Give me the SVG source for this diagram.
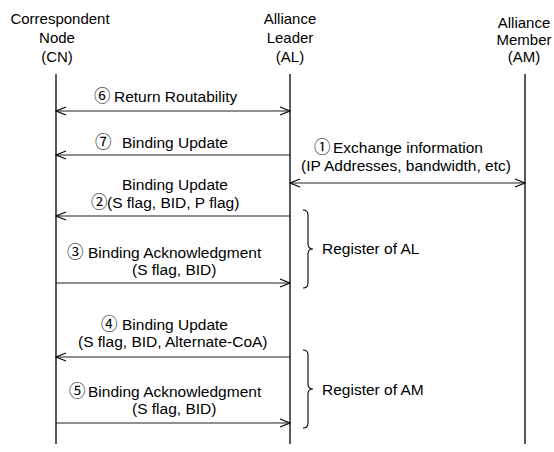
<svg xmlns="http://www.w3.org/2000/svg" width="554" height="452" viewBox="0 0 554 452">
<style>
text{font-family:"Liberation Sans",Arial,"Noto Sans CJK JP",sans-serif;font-size:15.5px;fill:#000}
.hd{font-size:15px;text-anchor:middle}
.num{font-family:"Noto Sans CJK JP","DejaVu Sans",sans-serif;font-size:16.5px}
.life{stroke:#000;stroke-width:1.3;fill:none}
.msg{stroke:#222;stroke-width:1.1;fill:none}
.brace{stroke:#000;stroke-width:1.1;fill:none}
</style>
<defs>
<marker id="ah" viewBox="0 0 12 10" refX="11" refY="5" markerWidth="12" markerHeight="10" markerUnits="userSpaceOnUse" orient="auto-start-reverse">
<path d="M1,1 L11,5 L1,9" fill="none" stroke="#000" stroke-width="1.1"/>
</marker>
</defs>
<rect width="554" height="452" fill="#fff"/>
<g id="node-cn">
<text class="hd" x="60" y="24">Correspondent</text>
<text class="hd" x="57" y="43">Node</text>
<text class="hd" x="57" y="62">(CN)</text>
<line class="life" x1="56" y1="74" x2="56" y2="444"/>
</g>
<g id="node-al">
<text class="hd" x="290" y="24">Alliance</text>
<text class="hd" x="290" y="43">Leader</text>
<text class="hd" x="290" y="62">(AL)</text>
<line class="life" x1="290" y1="74" x2="290" y2="444"/>
</g>
<g id="node-am">
<text class="hd" x="524" y="28">Alliance</text>
<text class="hd" x="524" y="45">Member</text>
<text class="hd" x="524" y="62">(AM)</text>
<line class="life" x1="525" y1="74" x2="525" y2="444"/>
</g>
<g id="connectors">
<line class="msg" x1="56" y1="111" x2="290" y2="111" marker-start="url(#ah)" marker-end="url(#ah)"/>
<line class="msg" x1="290" y1="155" x2="56" y2="155" marker-end="url(#ah)"/>
<line class="msg" x1="290" y1="183" x2="525" y2="183" marker-start="url(#ah)" marker-end="url(#ah)"/>
<line class="msg" x1="290" y1="216" x2="56" y2="216" marker-end="url(#ah)"/>
<line class="msg" x1="56" y1="283" x2="290" y2="283" marker-end="url(#ah)"/>
<line class="msg" x1="290" y1="357" x2="56" y2="357" marker-end="url(#ah)"/>
<line class="msg" x1="56" y1="423" x2="290" y2="423" marker-end="url(#ah)"/>
</g>
<g id="labels">
<text class="num" x="94" y="102">⑥</text><text x="114" y="102">Return Routability</text>
<text class="num" x="95" y="148">⑦</text><text x="122" y="148">Binding Update</text>
<text x="122" y="190">Binding Update</text>
<text class="num" x="91" y="208">②</text><text x="107" y="208">(S flag, BID, P flag)</text>
<text class="num" x="67" y="258">③</text><text x="88" y="258">Binding Acknowledgment</text>
<text x="132" y="275">(S flag, BID)</text>
<text class="num" x="101" y="330">④</text><text x="122" y="330">Binding Update</text>
<text x="78" y="347">(S flag, BID, Alternate-CoA)</text>
<text class="num" x="69" y="397">⑤</text><text x="88" y="397">Binding Acknowledgment</text>
<text x="132" y="414">(S flag, BID)</text>
<text class="num" x="314" y="153">①</text><text x="333" y="153">Exchange information</text>
<text x="301" y="171">(IP Addresses, bandwidth, etc)</text>
</g>
<g id="register-al">
<path class="brace" d="M303,210 Q308,210 308,215 L308,244 Q308,249 313,249 Q308,249 308,254 L308,283 Q308,288 303,288"/>
<text x="322" y="254">Register of AL</text>
</g>
<g id="register-am">
<path class="brace" d="M303,350 Q308,350 308,355 L308,384 Q308,389 313,389 Q308,389 308,394 L308,423 Q308,428 303,428"/>
<text x="322" y="395">Register of AM</text>
</g>
</svg>
